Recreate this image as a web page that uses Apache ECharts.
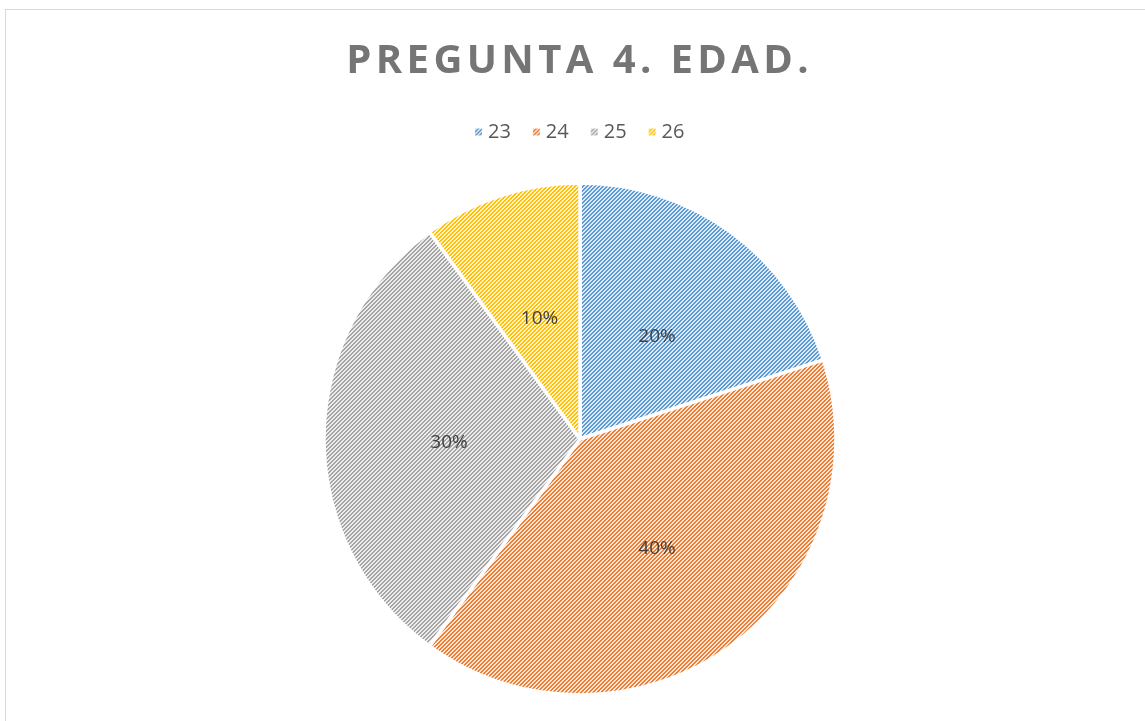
<!DOCTYPE html>
<html>
<head>
<meta charset="utf-8">
<script src="https://cdn.jsdelivr.net/npm/echarts@6/dist/echarts.min.js"></script>
<style>
  html, body { margin: 0; padding: 0; background: #fff; }
  #frame { position: absolute; left: 5px; top: 9px; width: 1160px; height: 730px; border: 1px solid #d9d9d9; box-sizing: border-box; }
  #chart { position: absolute; left: 0; top: 0; width: 1145px; height: 721px; }
  #title {
    position: absolute; left: 5px; top: 38px; width: 1145px; text-align: center;
    font-family: 'Open Sans'; font-weight: bold; font-size: 40px; line-height: 40px;
    color: #757575; letter-spacing: 4.4px; padding-left: 4.4px; box-sizing: border-box;
  }
</style>
</head>
<body>
<div id="frame"></div>
<div id="chart"></div>
<div id="title">PREGUNTA 4. EDAD.</div>
<script>
const categories = ['23', '24', '25', '26'];
const values = [20, 40, 30, 10];
const baseColors = ['#5B9BD5', '#ED7D31', '#A5A5A5', '#FFC000'];
const lightColors = ['#DEEBF7', '#FBE5D6', '#EDEDED', '#FFF2CC'];

// striped fill like the Excel "wide diagonal" pattern
const makeStripe = (dark, light) => {
  const c = document.createElement('canvas');
  c.width = 4;
  c.height = 4;
  const ctx = c.getContext('2d');
  ctx.fillStyle = light;
  ctx.fillRect(0, 0, 4, 4);
  ctx.fillStyle = dark;
  for (let y = 0; y < 4; y++) {
    for (let x = 0; x < 4; x++) {
      const k = (x + y) % 4;
      if (k === 0 || k === 1) ctx.fillRect(x, y, 1, 1);
    }
  }
  return { image: c, repeat: 'repeat' };
};

const chart = echarts.init(document.getElementById('chart'));
chart.setOption({
  animation: false,
  legend: {
    top: 117,
    left: 468,
    itemWidth: 9,
    itemHeight: 9,
    itemGap: 20,
    icon: 'rect',
    textStyle: { fontFamily: 'Open Sans', fontSize: 20, color: '#595959' },
    data: categories.map((c, i) => ({ name: c, itemStyle: { color: makeStripe(baseColors[i], lightColors[i]) } }))
  },
  series: [{
    type: 'pie',
    center: [580, 439],
    radius: 256,
    startAngle: 90,
    clockwise: true,
    data: categories.map((c, i) => ({
      name: c,
      value: values[i],
      itemStyle: { color: makeStripe(baseColors[i], lightColors[i]) }
    })),
    itemStyle: { borderColor: '#fff', borderWidth: 3.5 },
    label: {
      position: 'inside',
      formatter: '{d}%',
      fontFamily: 'Open Sans',
      fontSize: 19,
      color: '#404040',
      offset: [0, 4]
    },
    labelLine: { show: false },
    emphasis: { disabled: true }
  }]
});
</script>
</body>
</html>
